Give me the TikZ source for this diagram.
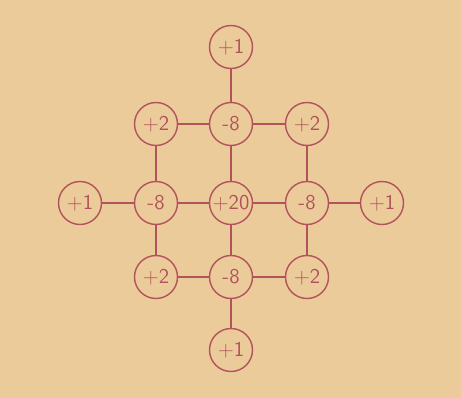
\documentclass[tikz,border=0pt]{standalone}
\usepackage{tikz}
\definecolor{paper}{RGB}{236,203,154}
\definecolor{ink}{RGB}{178,82,92}
\tikzset{
    cell/.style={circle, draw=ink, line width=0.8pt, minimum size=0.86cm, inner sep=0pt,
                 text=ink, font=\fontsize{12}{12}\sffamily},
    link/.style={draw=ink, line width=0.7pt}
}
\begin{document}
\begin{tikzpicture}[x=0.02cm, y=-0.02cm]
            % paper background
            \fill[paper] (0,0) rectangle (461,398);
            \useasboundingbox (0,0) rectangle (461,398);

            % 5-by-5 stencil weights
            \node[cell] (t)  at (231,47) {+1};

            \node[cell] (a1) at (156,124) {+2};
            \node[cell] (a2) at (231,124) {-8};
            \node[cell] (a3) at (307,124) {+2};

            \node[cell] (b0) at (80,203)  {+1};
            \node[cell] (b1) at (156,203) {-8};
            \node[cell] (b2) at (231,203) {+20};
            \node[cell] (b3) at (307,203) {-8};
            \node[cell] (b4) at (382,203) {+1};

            \node[cell] (c1) at (156,277) {+2};
            \node[cell] (c2) at (231,277) {-8};
            \node[cell] (c3) at (307,277) {+2};

            \node[cell] (d)  at (231,350) {+1};

            % grid connections
            \draw[link] (a1) -- (a2) -- (a3);
            \draw[link] (b0) -- (b1) -- (b2) -- (b3) -- (b4);
            \draw[link] (c1) -- (c2) -- (c3);
            \draw[link] (a1) -- (b1) -- (c1);
            \draw[link] (t) -- (a2) -- (b2) -- (c2) -- (d);
            \draw[link] (a3) -- (b3) -- (c3);
        \end{tikzpicture}
\end{document}
